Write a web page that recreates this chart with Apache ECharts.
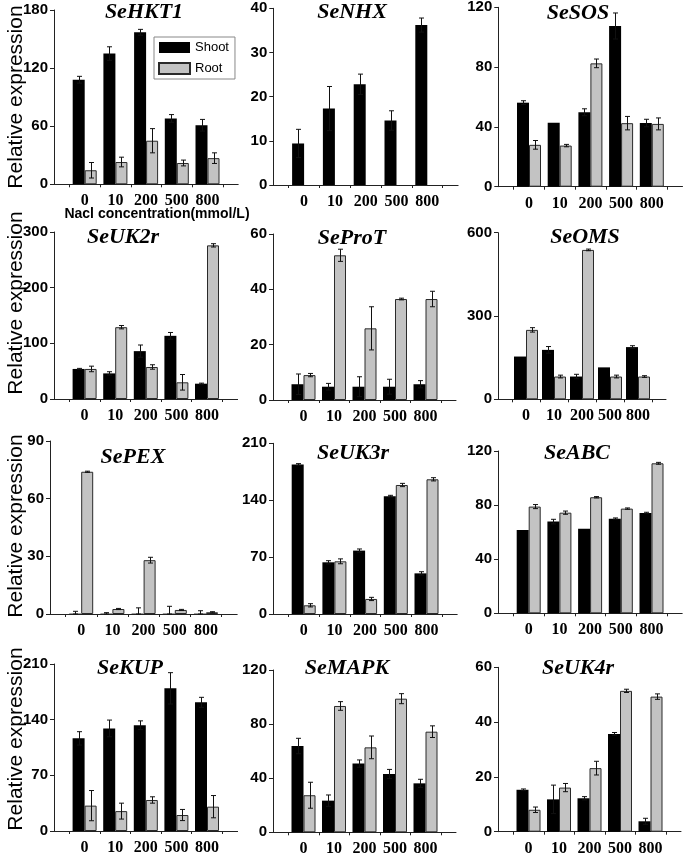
<!DOCTYPE html>
<html><head><meta charset="utf-8">
<script src="https://cdn.jsdelivr.net/npm/echarts@6/dist/echarts.min.js"></script>
<style>html,body{margin:0;padding:0;background:#fff}#c{width:685px;height:856px}</style>
</head><body><div id="c"></div>
<script>
// ---------- data ----------
const categories = ['0', '10', '200', '500', '800'];
const genes = ['SeHKT1','SeNHX','SeSOS','SeUK2r','SeProT','SeOMS','SePEX','SeUK3r','SeABC','SeKUP','SeMAPK','SeUK4r'];
const yMax = [180, 40, 120, 300, 60, 600, 90, 210, 120, 210, 120, 60];
const yInterval = [60, 10, 40, 100, 20, 300, 30, 70, 40, 70, 40, 20];

const SeHKT1_shoot = [108, 135, 157, 68, 61];
const SeHKT1_shootErr = [3.5, 7, 3, 4, 6];
const SeHKT1_root = [14.5, 23, 45, 22, 27];
const SeHKT1_rootErr = [8, 5, 12.5, 3, 5.5];

const SeNHX_shoot = [9.4, 17.3, 22.8, 14.6, 36.2];
const SeNHX_shootErr = [3.2, 5, 2.3, 2.2, 1.6];
const SeNHX_root = [null, null, null, null, null];
const SeNHX_rootErr = [null, null, null, null, null];

const SeSOS_shoot = [56.2, 42.8, 49.8, 107.5, 42.6];
const SeSOS_shootErr = [1.3, 0, 2.3, 8.7, 2.5];
const SeSOS_root = [28, 27.5, 82.5, 42.5, 42];
const SeSOS_rootErr = [2.9, 0.8, 2.9, 4.5, 4];

const SeUK2r_shoot = [54, 46, 86, 113.5, 27.5];
const SeUK2r_shootErr = [1, 3, 11, 6, 1];
const SeUK2r_root = [54, 129, 57.5, 30, 276];
const SeUK2r_rootErr = [5, 3, 4, 14, 3];

const SeProT_shoot = [5.7, 4.8, 4.8, 4.8, 5.7];
const SeProT_shootErr = [3.7, 1.2, 3.6, 2.7, 1.3];
const SeProT_root = [9, 52.3, 25.9, 36.5, 36.5];
const SeProT_rootErr = [0.6, 2.2, 7.8, 0.3, 2.8];

const SeOMS_shoot = [154, 178, 82, 115, 188];
const SeOMS_shootErr = [0, 12, 8, 0, 5];
const SeOMS_root = [250, 82, 538, 82, 82];
const SeOMS_rootErr = [8, 5, 3, 5, 3];

const SePEX_shoot = [0.2, 0.2, 0.2, 0.2, 0.2];
const SePEX_shootErr = [1.2, 0.5, 3, 3.8, 1.5];
const SePEX_root = [74, 2.6, 28, 2.1, 0.9];
const SePEX_rootErr = [0.3, 0.3, 1.5, 0.3, 0.3];

const SeUK3r_shoot = [184, 63.6, 78, 145, 50];
const SeUK3r_shootErr = [1, 2, 2, 1, 2];
const SeUK3r_root = [10.7, 64.8, 18.5, 158.7, 165.7];
const SeUK3r_rootErr = [2, 3, 2, 2, 2];

const SeABC_shoot = [61.6, 67.8, 62.6, 70, 74.2];
const SeABC_shootErr = [0, 1.7, 0, 0.5, 0.5];
const SeABC_root = [78.9, 74.4, 85.8, 77.4, 110.9];
const SeABC_rootErr = [1.5, 1.2, 0.5, 0.5, 0.7];

const SeKUP_shoot = [116.5, 129, 133, 179.4, 161.8];
const SeKUP_shootErr = [8.4, 10.5, 5.5, 19.7, 6.3];
const SeKUP_root = [31.9, 25, 39, 20.1, 30.6];
const SeKUP_rootErr = [19, 10, 4, 7, 14];

const SeMAPK_shoot = [63.8, 23.4, 50.8, 43.1, 36.2];
const SeMAPK_shootErr = [5.7, 4.2, 2.7, 3.4, 3];
const SeMAPK_root = [27.4, 93.4, 62.8, 98.8, 74.4];
const SeMAPK_rootErr = [9.6, 3.2, 8.4, 3.7, 4.3];

const SeUK4r_shoot = [15.3, 11.8, 12.2, 35.7, 3.8];
const SeUK4r_shootErr = [0.3, 5.2, 0.6, 0.5, 1.1];
const SeUK4r_root = [8, 16.1, 23.2, 51.4, 49.3];
const SeUK4r_rootErr = [1, 1.5, 2.5, 0.6, 1];

const yTitle = 'Relative expression';
const xTitle = 'Nacl concentration(mmol/L)';

// ---------- layout (positions/styles only) ----------
const panelData = [
  [SeHKT1_shoot, SeHKT1_shootErr, SeHKT1_root, SeHKT1_rootErr],
  [SeNHX_shoot, SeNHX_shootErr, SeNHX_root, SeNHX_rootErr],
  [SeSOS_shoot, SeSOS_shootErr, SeSOS_root, SeSOS_rootErr],
  [SeUK2r_shoot, SeUK2r_shootErr, SeUK2r_root, SeUK2r_rootErr],
  [SeProT_shoot, SeProT_shootErr, SeProT_root, SeProT_rootErr],
  [SeOMS_shoot, SeOMS_shootErr, SeOMS_root, SeOMS_rootErr],
  [SePEX_shoot, SePEX_shootErr, SePEX_root, SePEX_rootErr],
  [SeUK3r_shoot, SeUK3r_shootErr, SeUK3r_root, SeUK3r_rootErr],
  [SeABC_shoot, SeABC_shootErr, SeABC_root, SeABC_rootErr],
  [SeKUP_shoot, SeKUP_shootErr, SeKUP_root, SeKUP_rootErr],
  [SeMAPK_shoot, SeMAPK_shootErr, SeMAPK_root, SeMAPK_rootErr],
  [SeUK4r_shoot, SeUK4r_shootErr, SeUK4r_root, SeUK4r_rootErr]
];
const layout = [
  {left: 54,    top: 10,    zero: 184.3, step: 30.7, tx: 144, ty: 12},
  {left: 273.3, top: 8.3,   zero: 185,   step: 30.8, tx: 352, ty: 12},
  {left: 498.3, top: 7.3,   zero: 186.7, step: 30.7, tx: 578, ty: 13},
  {left: 54,    top: 232,   zero: 399,   step: 30.6, tx: 123, ty: 237},
  {left: 273,   top: 234,   zero: 400,   step: 30.5, tx: 352, ty: 238},
  {left: 498,   top: 232.7, zero: 399.3, step: 28,   tx: 585, ty: 237},
  {left: 50,    top: 441,   zero: 614,   step: 31.2, tx: 133, ty: 457},
  {left: 273,   top: 443.3, zero: 614,   step: 30.7, tx: 353, ty: 453},
  {left: 498,   top: 451,   zero: 613.3, step: 30.7, tx: 577, ty: 453},
  {left: 54,    top: 664,   zero: 831,   step: 30.6, tx: 130, ty: 668},
  {left: 273,   top: 670,   zero: 832.3, step: 30.5, tx: 347, ty: 668},
  {left: 498,   top: 667.3, zero: 831.7, step: 30.5, tx: 578, ty: 668}
];
const yTitleCenters = [97, 303, 526, 739];

const BAR_W = 12;
const AXIS_COLOR = '#222';
const SHOOT_COLOR = '#000';
const ROOT_COLOR = '#c3c3c3';
const sansBold = 'bold 14px "Liberation Sans", Arial, sans-serif';

const xCats = [' '].concat(categories, ['  ']);
const tickCats = Array.from({length: 13}, (_, i) => 't' + i);

const grids = [], xAxes = [], yAxes = [], series = [], graphics = [];

function errSeries(pi, vals, errs, side) {
  return {
    type: 'custom', xAxisIndex: pi * 2, yAxisIndex: pi, z: 10, silent: true,
    data: vals.map((v, i) => (v == null || errs[i] == null) ? [i + 1, 0, 0] : [i + 1, v, errs[i]]),
    renderItem: function (params, api) {
      const idx = api.value(0), v = api.value(1), e = api.value(2);
      if (!e) return null;
      const top = api.coord([idx, v + e]);
      const bot = api.coord([idx, Math.max(0, v - e)]);
      const x = Math.round(top[0] + side * BAR_W / 2) + 0.5;
      const cw = 2.5;
      const st = {stroke: '#111', lineWidth: 1};
      return {type: 'group', children: [
        {type: 'line', shape: {x1: x, y1: top[1], x2: x, y2: bot[1]}, style: st},
        {type: 'line', shape: {x1: x - cw, y1: top[1], x2: x + cw, y2: top[1]}, style: st},
        {type: 'line', shape: {x1: x - cw, y1: bot[1], x2: x + cw, y2: bot[1]}, style: st}
      ]};
    }
  };
}

layout.forEach((L, pi) => {
  const width = L.step * 6;
  grids.push({left: L.left, top: L.top, width: width, height: L.zero - L.top,
    containLabel: false, outerBoundsMode: 'none'});
  xAxes.push({
    type: 'category', gridIndex: pi, data: xCats, boundaryGap: false,
    axisLine: {show: true, lineStyle: {color: AXIS_COLOR, width: 1}},
    axisTick: {show: false},
    axisLabel: {show: true, interval: 0, margin: 9, color: '#000',
      fontFamily: '"Liberation Serif", "Times New Roman", serif', fontWeight: 'bold', fontSize: 16},
    splitLine: {show: false}
  });
  xAxes.push({
    type: 'category', gridIndex: pi, data: tickCats, boundaryGap: false, position: 'bottom',
    axisLine: {show: false},
    axisTick: {show: true, length: 3, interval: (i) => i % 2 === 1, lineStyle: {color: AXIS_COLOR}},
    axisLabel: {show: false}, splitLine: {show: false}
  });
  yAxes.push({
    type: 'value', gridIndex: pi, min: 0, max: yMax[pi], interval: yInterval[pi],
    axisLine: {show: true, lineStyle: {color: AXIS_COLOR, width: 1}},
    axisTick: {show: true, length: 4, lineStyle: {color: AXIS_COLOR}},
    axisLabel: {show: true, margin: 6, color: '#000',
      fontFamily: '"Liberation Sans", Arial, sans-serif', fontWeight: 'bold', fontSize: 15},
    splitLine: {show: false}
  });
  const [sh, shE, rt, rtE] = panelData[pi];
  series.push({
    name: 'Shoot', type: 'bar', xAxisIndex: pi * 2, yAxisIndex: pi,
    data: [null].concat(sh, [null]), barWidth: BAR_W, barGap: '0%',
    itemStyle: {color: SHOOT_COLOR, borderColor: '#000', borderWidth: 0}
  });
  series.push({
    name: 'Root', type: 'bar', xAxisIndex: pi * 2, yAxisIndex: pi,
    data: [null].concat(rt, [null]), barWidth: BAR_W, barGap: '0%',
    itemStyle: {color: ROOT_COLOR, borderColor: '#2a2a2a', borderWidth: 1}
  });
  series.push(errSeries(pi, sh, shE, -1));
  series.push(errSeries(pi, rt, rtE, 1));
  graphics.push({
    type: 'text', x: L.tx, y: L.ty, z: 20,
    style: {text: genes[pi], font: 'italic bold 22px "Liberation Serif", "Times New Roman", serif',
      fill: '#000', align: 'center', verticalAlign: 'middle'}
  });
});

yTitleCenters.forEach((cy) => {
  graphics.push({
    type: 'text', x: 16, y: cy, rotation: Math.PI / 2, z: 20,
    style: {text: yTitle, font: '21px "Liberation Sans", Arial, sans-serif',
      fill: '#000', align: 'center', verticalAlign: 'middle'}
  });
});
graphics.push({
  type: 'text', x: 157, y: 214, z: 20,
  style: {text: xTitle, font: sansBold, fill: '#000', align: 'center', verticalAlign: 'middle'}
});

const chart = echarts.init(document.getElementById('c'), null, {renderer: 'canvas'});
chart.setOption({
  animation: false,
  backgroundColor: '#fff',
  grid: grids,
  xAxis: xAxes,
  yAxis: yAxes,
  legend: {
    data: ['Shoot', 'Root'], orient: 'vertical', left: 154, top: 37,
    itemWidth: 31, itemHeight: 11, itemGap: 8, padding: [4, 6, 4, 4],
    borderColor: '#888', borderWidth: 1, backgroundColor: '#fff', icon: 'rect',
    textStyle: {fontFamily: '"Liberation Sans", Arial, sans-serif', fontSize: 13, color: '#000'},
    selectedMode: false
  },
  series: series,
  graphic: graphics
});
</script>
</body></html>
